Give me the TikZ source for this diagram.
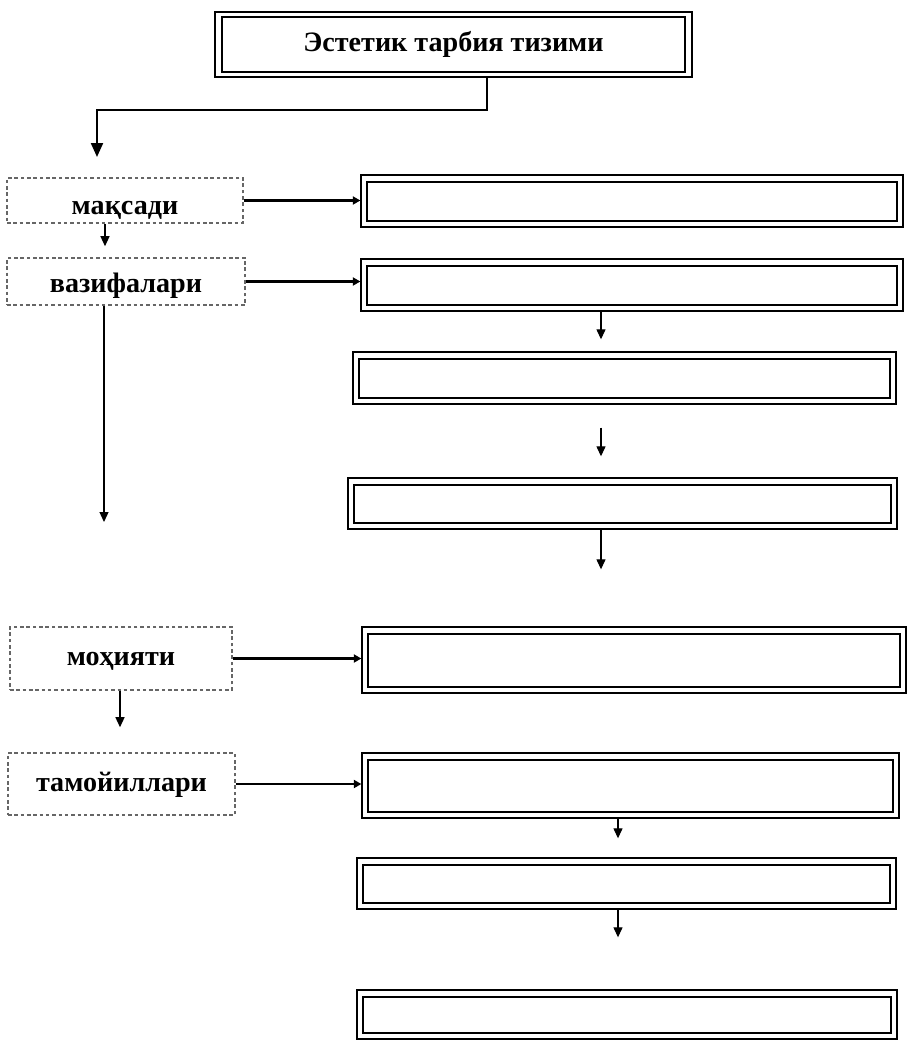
\documentclass[tikz,border=0pt]{standalone}
\usepackage{fontspec}
\setmainfont{Liberation Serif}
\usepackage{tikz}
\usetikzlibrary{arrows.meta,calc}

\begin{document}
\begin{tikzpicture}[
  x=0.02cm, y=-0.02cm,
  font=\bfseries\fontsize{16}{19}\selectfont,
  dbox/.style={draw, line width=0.8pt, inner sep=0pt},
  tagbox/.style={draw=black!60, line width=0.9pt, dash pattern=on 2pt off 1.6pt,
                 inner sep=0pt, align=center, text height=#1, text depth=0pt},
  tagbox/.default=8pt,
  feed/.style={-{Triangle[length=2.8mm,width=2.4mm]}, line width=1.2pt},
  down/.style={-{Triangle[length=2mm,width=1.8mm]}, line width=0.7pt},
  side/.style={-{Triangle[length=1.5mm,width=1.6mm]}, line width=1.5pt}
]
\useasboundingbox (0,0) rectangle (907,1041);

\node[dbox, minimum width=9.54cm, minimum height=1.30cm] (title) at (453.5,44.5)
  {Эстетик тарбия тизими};

% left column
\node[tagbox=16pt, minimum width=4.72cm, minimum height=0.90cm] (maks) at (125,200.5) {мақсади};
\node[tagbox=13pt, minimum width=4.76cm, minimum height=0.94cm] (vaz) at (126,281.5) {вазифалари};
\node[tagbox, minimum width=4.44cm, minimum height=1.26cm] (moh) at (121,658.5) {моҳияти};
\node[tagbox, minimum width=4.54cm, minimum height=1.24cm] (tam) at (121.5,784) {тамойиллари};

% right column
\node[dbox, minimum width=10.84cm, minimum height=1.04cm] (b1) at (632,201) {};
\node[dbox, minimum width=10.84cm, minimum height=1.04cm] (b2) at (632,285) {};
\node[dbox, minimum width=10.86cm, minimum height=1.04cm] (b3) at (624.5,378) {};
\node[dbox, minimum width=10.98cm, minimum height=1.02cm] (b4) at (622.5,503.5) {};
\node[dbox, minimum width=10.88cm, minimum height=1.32cm] (b5) at (634,660) {};
\node[dbox, minimum width=10.74cm, minimum height=1.30cm] (b6) at (630.5,785.5) {};
\node[dbox, minimum width=10.78cm, minimum height=1.02cm] (b7) at (626.5,883.5) {};
\node[dbox, minimum width=10.80cm, minimum height=0.98cm] (b8) at (627,1014.5) {};

\draw[line width=1.1pt] ($(title.north west)+(8,6)$) rectangle ($(title.south east)+(-8,-6)$);
\foreach \b in {b1,b2,b3,b4,b5,b6,b7,b8}
  \draw[line width=1.2pt] ($(\b.north west)+(7,8)$) rectangle ($(\b.south east)+(-7,-7)$);

\coordinate (drop) at (487,110);
\coordinate (feedend) at (97,157);
\coordinate (vazend) at (104,522);
\coordinate (colL) at (105,0);
\coordinate (colM) at (120,0);
\coordinate (colA) at (601,0);
\coordinate (colB) at (618,0);

\draw[feed] (title.south -| drop) -- (drop) -| (feedend);
\draw[down] (maks.south -| colL) -- ([yshift=0.22cm]vaz.north -| colL);
\draw[down] (vaz.south -| vazend) -- (vazend);
\draw[down, shorten >=0.5cm] (moh.south -| colM) -- (tam.north -| colM);

\draw[side] (maks.east) -- (maks.east -| b1.west);
\draw[side] (vaz.east) -- (vaz.east -| b2.west);
\draw[side] (moh.east) -- (moh.east -| b5.west);
\draw[side] (tam.east) -- (tam.east -| b6.west);

\draw[down, shorten >=0.24cm] (b2.south -| colA) -- (b3.north -| colA);
\draw[down, shorten <=0.46cm, shorten >=0.42cm] (b3.south -| colA) -- (b4.north -| colA);
\draw[down, shorten >=1.14cm] (b4.south -| colA) -- (b5.north -| colA);
\draw[down, shorten >=0.38cm] (b6.south -| colB) -- (b7.north -| colB);
\draw[down, shorten >=1.04cm] (b7.south -| colB) -- (b8.north -| colB);
\end{tikzpicture}
\end{document}
